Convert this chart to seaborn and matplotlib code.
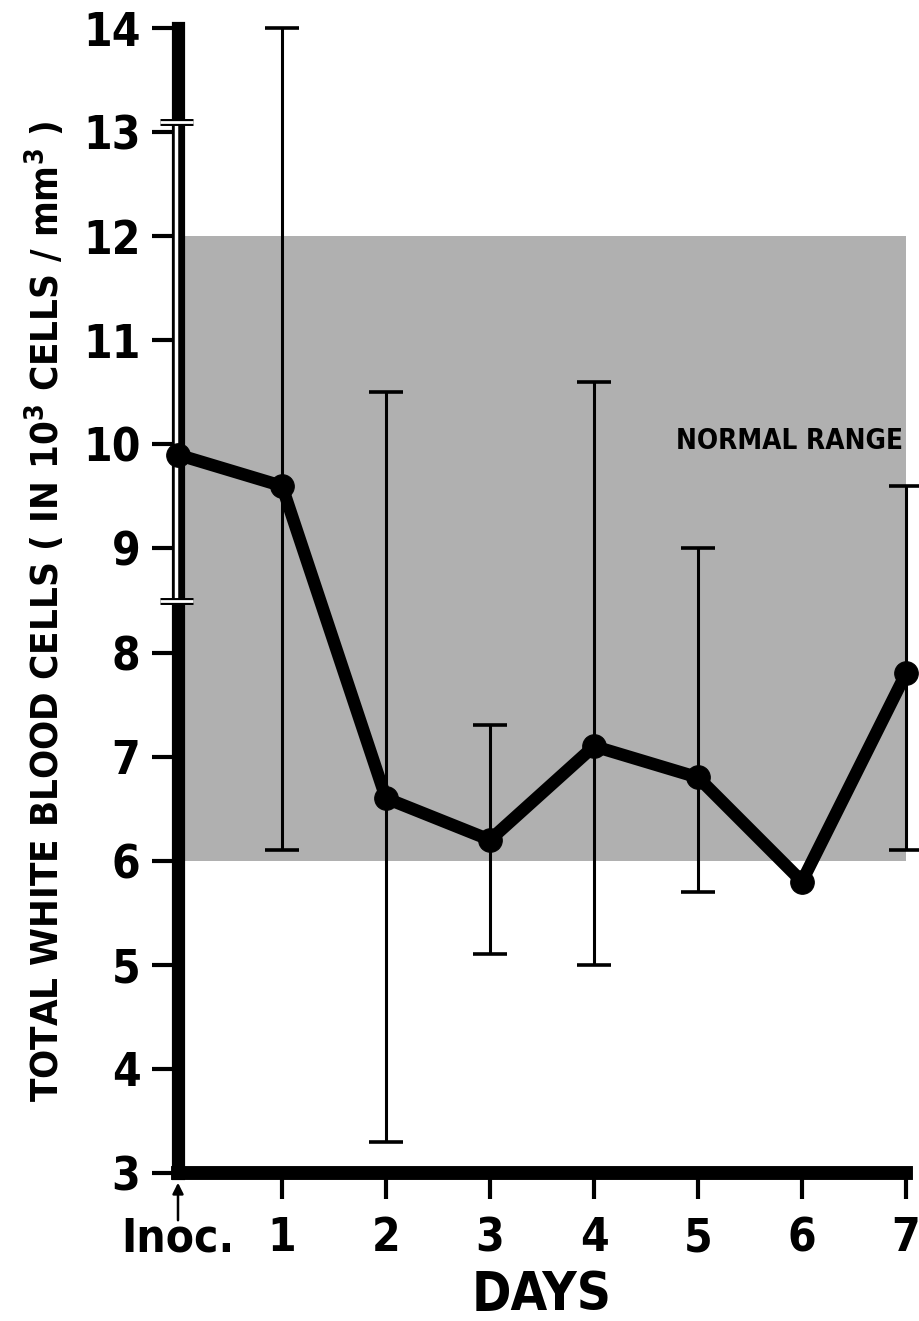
import matplotlib
matplotlib.use("Agg")
import matplotlib.pyplot as plt
import matplotlib.patheffects as pe
import seaborn as sns
import pandas as pd

# ---- data ----
days = [0, 1, 2, 3, 4, 5, 6, 7]
day_labels = ["Inoc.", "1", "2", "3", "4", "5", "6", "7"]
wbc_mean = [9.9, 9.6, 6.6, 6.2, 7.1, 6.8, 5.8, 7.8]
wbc_low = [8.5, 6.1, 3.3, 5.1, 5.0, 5.7, None, 6.1]
wbc_high = [13.1, 14.0, 10.5, 7.3, 10.6, 9.0, None, 9.6]
normal_low = 6.0
normal_high = 12.0
y_ticks = [3, 4, 5, 6, 7, 8, 9, 10, 11, 12, 13, 14]
y_tick_labels = ["3", "4", "5", "6", "7", "8", "9", "10", "11", "12", "13", "14"]

sns.set_theme(style="ticks")
plt.rcParams["font.family"] = ["DejaVu Sans"]
plt.rcParams["font.stretch"] = "condensed"
plt.rcParams["font.weight"] = "bold"
plt.rcParams["text.color"] = "black"
plt.rcParams["axes.labelcolor"] = "black"

fig = plt.figure(figsize=(9.19, 13.21), dpi=100)
ax = fig.add_axes([178 / 919, 1 - 1173 / 1321, 728 / 919, 1145 / 1321])

df = pd.DataFrame({"day": days, "wbc": wbc_mean})

# normal range shading
ax.fill_between([days[0], days[-1]], normal_low, normal_high,
                color="#b0b0b0", linewidth=0, zorder=0)
ax.text(6.97, 10.03, "NORMAL RANGE", ha="right", va="center",
        fontsize=20, fontweight="bold", color="black", zorder=1)

# error bars (days 1..7)
for d, m, lo, hi in zip(days[1:], wbc_mean[1:], wbc_low[1:], wbc_high[1:]):
    if lo is None:
        continue
    ax.errorbar([d], [m], yerr=[[m - lo], [hi - m]], fmt="none",
                ecolor="black", elinewidth=2.2, capsize=12.5, capthick=2.6,
                zorder=2, clip_on=False)

# day 0 error bar: white line over the thick axis
eb = ax.errorbar([days[0] - 0.015], [wbc_mean[0]],
                 yerr=[[wbc_mean[0] - wbc_low[0]], [wbc_high[0] - wbc_mean[0]]],
                 fmt="none", ecolor="white", elinewidth=2.5, capsize=12,
                 capthick=2.0, zorder=3, clip_on=False)
for coll in eb.lines[2]:
    coll.set_path_effects([pe.Stroke(linewidth=5, foreground="black"), pe.Normal()])
for cap in eb.lines[1]:
    cap.set_path_effects([pe.Stroke(linewidth=5, foreground="black"), pe.Normal()])
    cap.set_markeredgecolor("white")

# main line
sns.lineplot(data=df, x="day", y="wbc", ax=ax, color="black", linewidth=9,
             marker="o", markersize=17, markeredgecolor="black",
             markerfacecolor="black", zorder=4, clip_on=False)

ax.set_xlim(0, 7)
ax.set_ylim(3, 14)

for side in ["top", "right"]:
    ax.spines[side].set_visible(False)
ax.spines["left"].set_linewidth(9.5)
ax.spines["bottom"].set_linewidth(10)
for side in ["left", "bottom"]:
    ax.spines[side].set_color("black")
    ax.spines[side].set_capstyle("projecting")
    ax.spines[side].set_zorder(2.5)

ax.set_yticks(y_ticks)
ax.set_yticklabels(y_tick_labels)
ax.set_xticks(days)
ax.set_xticklabels(day_labels)
ax.tick_params(axis="both", direction="out", length=19, width=3,
               color="black", labelcolor="black", labelsize=33)
ax.tick_params(axis="y", pad=8)
ax.tick_params(axis="x", pad=12)
ax.xaxis.get_major_ticks()[0].tick1line.set_visible(False)
for lab in ax.get_xticklabels() + ax.get_yticklabels():
    lab.set_fontweight("bold")

# Inoc. arrow
ax.annotate("", xy=(0, 3), xycoords="data", xytext=(0, -34),
            textcoords="offset points",
            arrowprops=dict(arrowstyle="-|>", color="black", lw=1.8,
                            mutation_scale=16, shrinkA=0, shrinkB=7))

ax.set_xlabel("DAYS", fontsize=38, fontweight="bold", labelpad=6, color="black")
ax.set_ylabel("TOTAL WHITE BLOOD CELLS ( IN 10$^{\\mathbf{3}}$ CELLS / mm$^{\\mathbf{3}}$ )",
              fontsize=27.5, fontweight="bold", color="black")
ax.yaxis.set_label_coords(-0.152, 0.491)

fig.savefig("out.png", dpi=100, facecolor="white")
